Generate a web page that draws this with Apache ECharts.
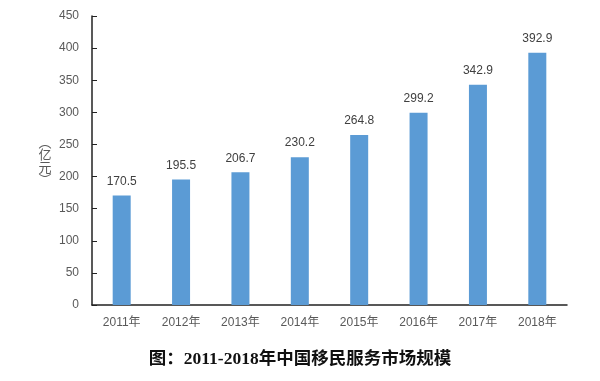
<!DOCTYPE html>
<html><head><meta charset="utf-8">
<script src="https://cdn.jsdelivr.net/npm/echarts@6/dist/echarts.min.js"></script>
<style>html,body{margin:0;padding:0;background:#fff}#c{width:600px;height:381px}</style>
</head><body><div id="c"></div>
<script>
const categories = ['2011年','2012年','2013年','2014年','2015年','2016年','2017年','2018年'];
const values = [170.5,195.5,206.7,230.2,264.8,299.2,342.9,392.9];
const yTicks = {min:0,max:450,interval:50};
const title = '图：2011-2018年中国移民服务市场规模';
const yName = ['︵','亿','元','︶'];

const nameY = [142, 154, 167, 179];
const chart = echarts.init(document.getElementById('c'), null, {renderer:'canvas'});
chart.setOption({
  animation:false,
  backgroundColor:'#fff',
  grid:{left:92,right:33,top:16,bottom:76,containLabel:false},
  title:{text:title,left:'center',top:346,textStyle:{fontSize:17.5,fontWeight:'bold',color:'#111',fontFamily:"'Liberation Serif','Noto Sans CJK SC',serif"}},
  graphic:yName.map((ch,i)=>({type:'text',x:45,y:nameY[i],style:{text:ch,fontSize:13,fill:'#595959',fontFamily:"'Noto Sans CJK SC',sans-serif",align:'center',verticalAlign:'middle'}})),
  xAxis:{type:'category',data:categories,
    axisLine:{lineStyle:{color:'#222',width:1.5}},
    axisTick:{inside:true,length:5,lineStyle:{color:'#222'}},
    axisLabel:{color:'#595959',fontSize:12,margin:12,fontFamily:"'Liberation Sans','Noto Sans CJK SC',sans-serif"}},
  yAxis:{type:'value',min:yTicks.min,max:yTicks.max,interval:yTicks.interval,
    axisLine:{show:true,lineStyle:{color:'#222',width:1.5}},
    axisTick:{show:true,inside:true,length:5,lineStyle:{color:'#222'}},
    splitLine:{show:false},
    axisLabel:{color:'#595959',fontSize:12,margin:13,fontFamily:"'Liberation Sans',sans-serif"}},
  series:[{type:'bar',data:values,barWidth:18,
    itemStyle:{color:'#5B9BD5'},
    label:{show:true,position:'top',distance:8,color:'#404040',fontSize:12,fontFamily:"'Liberation Sans',sans-serif"}}]
});
</script></body></html>
